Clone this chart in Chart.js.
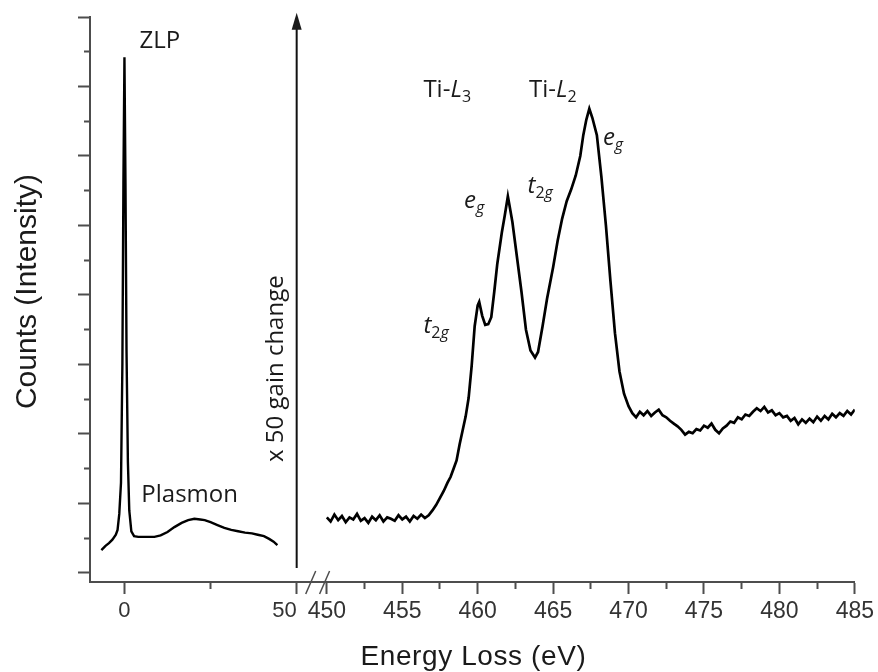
<!DOCTYPE html>
<html>
<head>
<meta charset="utf-8">
<script src="https://cdn.jsdelivr.net/npm/chart.js@4.4.1/dist/chart.umd.min.js"></script>
<style>
  html, body { margin: 0; padding: 0; background: #fff; }
  #wrap { width: 878px; height: 672px; }
</style>
</head>
<body>
<div id="wrap"><canvas id="chart1" width="878" height="672"></canvas></div>
<script>

// low loss part: zero loss peak + plasmon (eV, arb. counts)
var lowLossEnergy = [-6.7, -5.5, -4.5, -3.5, -2.5, -2.0, -1.5, -1.0, -0.6, -0.3, 0, 0.3, 0.6, 1.0, 1.4, 2.0, 2.8, 4, 6, 8.7,
  10.5, 12.5, 14.5, 16.6, 18.5, 20.3, 22, 23.3, 25, 27, 29, 31, 33, 35, 37, 38.7, 40.5, 42, 43.3, 44.4];
var lowLossCounts = [0.33, 0.39, 0.43, 0.48, 0.55, 0.62, 0.85, 1.30, 3.00, 5.60, 7.42, 5.60, 3.20, 1.60, 0.90, 0.60, 0.53, 0.52, 0.52, 0.52,
  0.54, 0.59, 0.66, 0.72, 0.76, 0.78, 0.77, 0.76, 0.73, 0.69, 0.65, 0.62, 0.60, 0.58, 0.57, 0.55, 0.53, 0.49, 0.45, 0.40];

// Ti L2,3 edge, recorded after the x50 gain change
var tiEnergy = [
  450.00, 450.25, 450.50, 450.75, 451.00, 451.25, 451.50, 451.75, 452.00, 452.25, 452.50, 452.75, 453.00, 453.25,
  453.50, 453.75, 454.00, 454.25, 454.50, 454.75, 455.00, 455.25, 455.50, 455.75, 456.00, 456.25, 456.50, 456.75,
  457.0, 457.25, 457.5, 457.75, 458.0, 458.2, 458.4, 458.6, 458.8, 459.0, 459.2, 459.4, 459.6, 459.8,
  460.0, 460.1, 460.3, 460.5, 460.7, 460.9, 461.1, 461.3, 461.6, 461.8, 462.0, 462.1, 462.3, 462.6, 462.9,
  463.2, 463.5, 463.8, 464.0, 464.3, 464.6, 465.0, 465.3, 465.6, 465.9, 466.2, 466.5, 466.8, 467.0, 467.2,
  467.4, 467.6, 467.9, 468.2, 468.5, 468.8, 469.1, 469.4, 469.7,
  470.00, 470.25, 470.50, 470.75, 471.00, 471.25, 471.50, 471.75, 472.00, 472.25, 472.50, 472.75, 473.00, 473.25,
  473.50, 473.75, 474.00, 474.25, 474.50, 474.75, 475.00, 475.25, 475.50, 475.75, 476.00, 476.25, 476.50, 476.75,
  477.00, 477.25, 477.50, 477.75, 478.00, 478.25, 478.50, 478.75, 479.00, 479.25, 479.50, 479.75, 480.00, 480.25,
  480.50, 480.75, 481.00, 481.25, 481.50, 481.75, 482.00, 482.25, 482.50, 482.75, 483.00, 483.25, 483.50, 483.75,
  484.00, 484.25, 484.50, 484.75, 485.00];
var tiCounts = [
  0.80, 0.74, 0.84, 0.76, 0.82, 0.73, 0.80, 0.77, 0.85, 0.75, 0.79, 0.72, 0.81, 0.76,
  0.83, 0.74, 0.80, 0.78, 0.75, 0.83, 0.77, 0.81, 0.74, 0.82, 0.78, 0.84, 0.79, 0.83,
  0.90, 0.98, 1.08, 1.18, 1.30, 1.38, 1.50, 1.62, 1.85, 2.05, 2.25, 2.52, 2.98, 3.55,
  3.85, 3.90, 3.70, 3.57, 3.58, 3.68, 4.05, 4.45, 4.90, 5.15, 5.42, 5.30, 5.05, 4.55, 4.05,
  3.50, 3.20, 3.10, 3.18, 3.55, 3.95, 4.40, 4.78, 5.10, 5.35, 5.52, 5.72, 6.00, 6.30, 6.52,
  6.68, 6.55, 6.30, 5.70, 5.00, 4.20, 3.45, 2.90, 2.58,
  2.40, 2.30, 2.24, 2.32, 2.27, 2.33, 2.26, 2.31, 2.35, 2.27, 2.24, 2.19, 2.15, 2.11,
  2.06, 1.99, 2.03, 2.01, 2.07, 2.05, 2.12, 2.09, 2.15, 2.06, 2.01, 2.08, 2.12, 2.18,
  2.16, 2.24, 2.21, 2.28, 2.26, 2.32, 2.37, 2.33, 2.39, 2.31, 2.34, 2.27, 2.30, 2.24,
  2.26, 2.19, 2.23, 2.14, 2.21, 2.16, 2.22, 2.17, 2.25, 2.19, 2.26, 2.21, 2.29, 2.24,
  2.30, 2.26, 2.33, 2.28, 2.35];

// ticks (first low loss tick is only there so 'inner' align pushes "50" left)
var lowLossTicks = [-10, 0, 25, 50];
var lowLossLabels = ['', '0', '', '50'];
var coreTicks = [450, 452.5, 455, 457.5, 460, 462.5, 465, 467.5, 470, 472.5, 475, 477.5, 480, 482.5, 485];
var countTicks = [0, 0.5, 1, 1.5, 2, 2.5, 3, 3.5, 4, 4.5, 5, 5.5, 6, 6.5, 7, 7.5, 8];

var AXIS = '#4d4d4d';
var INK = '#1a1a1a';
var NOTE_FONT = '"Open Sans"';

// text labels, placed in data units
var notes = [
  {axis: 'x1', x: 4.4, y: 7.55, parts: [{t: 'ZLP'}]},
  {axis: 'x1', x: 4.9, y: 1.02, parts: [{t: 'Plasmon'}]},
  {axis: 'x2', x: 456.4, y: 6.85, parts: [{t: 'Ti-'}, {t: 'L', it: true}, {t: '3', sub: true}]},
  {axis: 'x2', x: 463.4, y: 6.85, parts: [{t: 'Ti-'}, {t: 'L', it: true}, {t: '2', sub: true}]},
  {axis: 'x2', x: 456.4, y: 3.45, parts: [{t: 't', it: true}, {t: '2', sub: true}, {t: 'g', sub: true, it: true}]},
  {axis: 'x2', x: 459.1, y: 5.25, parts: [{t: 'e', it: true}, {t: 'g', sub: true, it: true}]},
  {axis: 'x2', x: 463.3, y: 5.47, parts: [{t: 't', it: true}, {t: '2', sub: true}, {t: 'g', sub: true, it: true}]},
  {axis: 'x2', x: 468.3, y: 6.16, parts: [{t: 'e', it: true}, {t: 'g', sub: true, it: true}]}
];

function toPoints(xs, ys) {
  return xs.map(function (x, i) { return {x: x, y: ys[i]}; });
}

function isMinor(v, step) {
  return Math.abs(v / step - Math.round(v / step)) > 1e-6;
}

function drawRich(ctx, parts, x, y, size) {
  var cx = x;
  parts.forEach(function (p) {
    var fs = p.sub ? Math.round(size * 0.68) : size;
    ctx.font = (p.it ? 'italic ' : '') + fs + 'px ' + NOTE_FONT;
    ctx.fillText(p.t, cx, y + (p.sub ? size * 0.22 : 0));
    cx += ctx.measureText(p.t).width;
  });
}

var extras = {
  id: 'extras',
  afterDraw: function (chart) {
    var ctx = chart.ctx;
    var area = chart.chartArea;
    var x1 = chart.scales.x1, x2 = chart.scales.x2, y = chart.scales.y;

    ctx.save();
    ctx.fillStyle = INK;
    ctx.strokeStyle = '#111';

    // gain change arrow
    var ax = x1.getPixelForValue(50);
    var aTop = y.getPixelForValue(8.06);
    ctx.lineWidth = 2;
    ctx.beginPath();
    ctx.moveTo(ax, y.getPixelForValue(0.07));
    ctx.lineTo(ax, aTop + 12);
    ctx.stroke();
    ctx.beginPath();
    ctx.moveTo(ax, aTop);
    ctx.lineTo(ax - 5, aTop + 17);
    ctx.lineTo(ax + 5, aTop + 17);
    ctx.closePath();
    ctx.fill();

    ctx.save();
    ctx.translate(x1.getPixelForValue(45.9), y.getPixelForValue(2.94));
    ctx.rotate(-Math.PI / 2);
    ctx.font = '24px ' + NOTE_FONT;
    ctx.textAlign = 'center';
    ctx.textBaseline = 'alphabetic';
    ctx.fillText('x 50 gain change', 0, 0);
    ctx.restore();

    // axis break
    ctx.strokeStyle = AXIS;
    ctx.lineWidth = 1.5;
    [448.93, 449.85].forEach(function (v) {
      var bx = x2.getPixelForValue(v);
      ctx.beginPath();
      ctx.moveTo(bx - 5, area.bottom + 12);
      ctx.lineTo(bx + 5, area.bottom - 11);
      ctx.stroke();
    });

    // annotations
    ctx.textAlign = 'left';
    ctx.textBaseline = 'alphabetic';
    notes.forEach(function (n) {
      var sx = chart.scales[n.axis];
      drawRich(ctx, n.parts, sx.getPixelForValue(n.x), y.getPixelForValue(n.y), 24);
    });

    // axis titles
    ctx.fillStyle = INK;
    ctx.font = '30px "Liberation Sans"';
    ctx.textAlign = 'center';
    ctx.textBaseline = 'middle';
    ctx.save();
    ctx.translate(area.left - 62.5, (area.top + area.bottom) / 2 - 8);
    ctx.rotate(-Math.PI / 2);
    ctx.fillText('Counts (Intensity)', 0, 0);
    ctx.restore();

    ctx.font = '28px "Liberation Sans"';
    ctx.textBaseline = 'alphabetic';
    ctx.letterSpacing = '0.6px';
    ctx.fillText('Energy Loss (eV)', (area.left + area.right) / 2 + 1, area.bottom + 83);
    ctx.restore();
  }
};

var chart = new Chart(document.getElementById('chart1'), {
  type: 'line',
  data: {
    datasets: [
      {
        label: 'Low loss',
        data: toPoints(lowLossEnergy, lowLossCounts),
        xAxisID: 'x1',
        yAxisID: 'y',
        borderColor: '#000',
        borderWidth: 2.4,
        pointRadius: 0,
        tension: 0
      },
      {
        label: 'Ti L2,3',
        data: toPoints(tiEnergy, tiCounts),
        xAxisID: 'x2',
        yAxisID: 'y',
        borderColor: '#000',
        borderWidth: 2.7,
        pointRadius: 0,
        tension: 0
      }
    ]
  },
  options: {
    responsive: false,
    animation: false,
    events: [],
    layout: {padding: {top: 17, right: 22, left: 0, bottom: 0}},
    plugins: {legend: {display: false}, tooltip: {enabled: false}},
    scales: {
      x1: {
        type: 'linear',
        position: 'bottom',
        stack: 'energy',
        stackWeight: 207,
        min: -10,
        max: 50,
        afterBuildTicks: function (s) { s.ticks = lowLossTicks.map(function (v) { return {value: v}; }); },
        afterFit: function (s) { s.height = 90; },
        border: {display: true, color: AXIS, width: 2},
        grid: {
          drawOnChartArea: false,
          tickLength: 12,
          tickWidth: 2,
          tickColor: function (c) { return c.tick && c.tick.value === -10 ? 'rgba(0,0,0,0)' : AXIS; },
          tickBorderDash: function (c) { return c.tick && c.tick.value === 25 ? [6, 50] : []; }
        },
        ticks: {
          autoSkip: false,
          maxRotation: 0,
          align: 'inner',
          padding: 4,
          color: '#333',
          font: {family: '"Liberation Sans"', size: 22},
          callback: function (v, i) { return lowLossLabels[i]; }
        }
      },
      x2: {
        type: 'linear',
        position: 'bottom',
        stack: 'energy',
        stackWeight: 559,
        min: 448,
        max: 485,
        afterBuildTicks: function (s) { s.ticks = coreTicks.map(function (v) { return {value: v}; }); },
        afterFit: function (s) { s.height = 90; },
        border: {display: true, color: AXIS, width: 2},
        grid: {
          drawOnChartArea: false,
          tickLength: 12,
          tickWidth: 2,
          tickColor: AXIS,
          tickBorderDash: function (c) { return c.tick && isMinor(c.tick.value, 5) ? [6, 50] : []; }
        },
        ticks: {
          autoSkip: false,
          maxRotation: 0,
          padding: 4,
          color: '#333',
          font: {family: '"Liberation Sans"', size: 23},
          callback: function (v) { return isMinor(v, 5) ? '' : String(v); }
        }
      },
      y: {
        type: 'linear',
        position: 'left',
        min: -0.13,
        max: 8,
        afterBuildTicks: function (s) { s.ticks = countTicks.map(function (v) { return {value: v}; }); },
        afterFit: function (s) { s.width = 90; },
        border: {display: true, color: AXIS, width: 2},
        grid: {
          drawOnChartArea: false,
          tickLength: 12,
          tickWidth: 2,
          tickColor: AXIS,
          tickBorderDash: function (c) { return c.tick && isMinor(c.tick.value, 1) ? [0, 6, 6, 50] : []; }
        },
        ticks: {display: false}
      }
    }
  },
  plugins: [extras]
});
</script>
</body>
</html>
